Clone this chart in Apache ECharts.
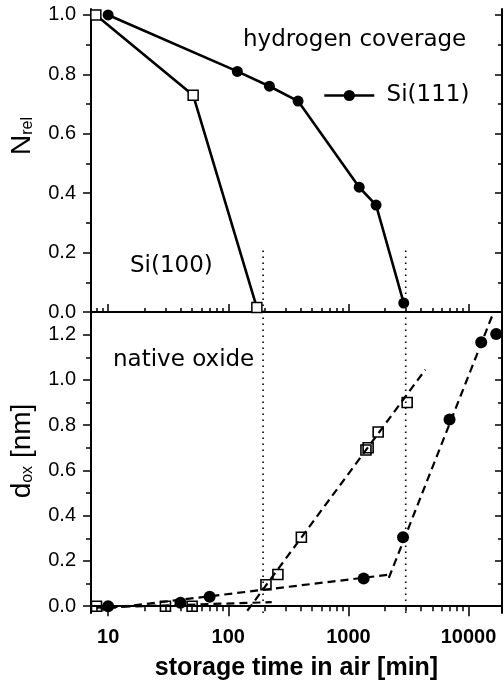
<!DOCTYPE html>
<html>
<head>
<meta charset="utf-8">
<script src="https://cdn.jsdelivr.net/npm/echarts@6/dist/echarts.min.js"></script>
<style>
html, body { margin: 0; padding: 0; background: #fff; }
#chart { width: 504px; height: 684px; }
</style>
</head>
<body>
<div id="chart"></div>
<script>
// tick values
const xMajor = [10, 100, 1000, 10000];
const xMinor = [8, 9, 20, 30, 40, 50, 60, 70, 80, 90, 200, 300, 400, 500, 600, 700, 800, 900,
    2000, 3000, 4000, 5000, 6000, 7000, 8000, 9000];
const coverageTicks = [0, 0.2, 0.4, 0.6, 0.8, 1.0];
const coverageMinor = [0.1, 0.3, 0.5, 0.7, 0.9];
const oxideTicks = [0, 0.2, 0.4, 0.6, 0.8, 1.0, 1.2];
const oxideMinor = [0.1, 0.3, 0.5, 0.7, 0.9, 1.1];

// hydrogen coverage (top panel)
const si111Coverage = [[10, 1.0], [119, 0.81], [220, 0.76], [381, 0.71], [1230, 0.42], [1700, 0.36], [2890, 0.03]];
const si100Coverage = [[7.9, 1.0], [51, 0.73], [173, 0.015]];

// native oxide thickness (bottom panel)
const si100Oxide = [[8, 0], [30, 0], [50, 0], [206, 0.095], [259, 0.14], [406, 0.305],
    [1400, 0.69], [1460, 0.70], [1770, 0.77], [3085, 0.90]];
const si111Oxide = [[10, 0], [40, 0.015], [70, 0.042], [1340, 0.122], [2850, 0.305],
    [6950, 0.825], [12760, 1.166], [17000, 1.203]];

// dashed guide lines
const si100FitLow = [[8, -0.006], [230, 0.018]];
const si100FitHigh = [[144, -0.02], [4370, 1.045]];
const si111FitLow = [[10, -0.01], [2240, 0.14]];
const si111FitHigh = [[2170, 0.125], [16200, 1.30]];

// dotted markers
const markTimes = [195, 3000];
const markTopCoverage = 0.21;

const X_MIN = 7.2, X_MAX = 19000;
const black = '#000';
const annFont = {fontFamily: 'DejaVu Sans', fontSize: 23, fill: black};

function xAx(gridIndex, position, values, length, inside, showLine, extra) {
    return Object.assign({
        type: 'log', logBase: 10, gridIndex: gridIndex, position: position,
        min: X_MIN, max: X_MAX,
        axisLine: {show: showLine, lineStyle: {color: black, width: 2}},
        axisTick: {show: !!values, customValues: values || [], inside: inside, length: length,
            lineStyle: {color: black, width: 1.5}},
        axisLabel: {show: false},
        splitLine: {show: false}
    }, extra || {});
}

function yAx(gridIndex, position, min, max, values, length, inside, showLine, extra) {
    return Object.assign({
        type: 'value', gridIndex: gridIndex, position: position, min: min, max: max,
        axisLine: {show: showLine, lineStyle: {color: black, width: 2}},
        axisTick: {show: true, customValues: values, inside: inside, length: length,
            lineStyle: {color: black, width: 1.5}},
        axisLabel: {show: false},
        splitLine: {show: false}
    }, extra || {});
}

const yLabel = (vals) => ({
    show: true, customValues: vals, margin: 15,
    fontFamily: 'Liberation Sans', fontSize: 20, color: black,
    formatter: v => v.toFixed(1)
});

const lineStyle = {color: black, width: 2.6};
const dash = {color: black, width: 2.2, type: [8, 5]};
const dot = {color: black, width: 1.6, type: [1.6, 4.4]};

const series = [
    {name: 'Si(111)', type: 'line', xAxisIndex: 0, yAxisIndex: 0, data: si111Coverage,
        symbol: 'circle', symbolSize: 11, color: black, lineStyle: lineStyle,
        itemStyle: {color: black, opacity: 1}, z: 5},
    {name: 'Si(100)', type: 'line', xAxisIndex: 0, yAxisIndex: 0, data: si100Coverage,
        symbol: 'rect', symbolSize: 10, lineStyle: lineStyle,
        itemStyle: {color: '#fff', borderColor: black, borderWidth: 1.5, opacity: 1}, z: 5},
    {name: 'fit100a', type: 'line', xAxisIndex: 5, yAxisIndex: 4, data: si100FitLow, showSymbol: false, lineStyle: dash},
    {name: 'fit100b', type: 'line', xAxisIndex: 5, yAxisIndex: 4, data: si100FitHigh, showSymbol: false, lineStyle: dash},
    {name: 'fit111a', type: 'line', xAxisIndex: 5, yAxisIndex: 4, data: si111FitLow, showSymbol: false, lineStyle: dash},
    {name: 'fit111b', type: 'line', xAxisIndex: 5, yAxisIndex: 4, data: si111FitHigh, showSymbol: false, lineStyle: dash},
    {name: 'ox100', type: 'scatter', xAxisIndex: 5, yAxisIndex: 4, data: si100Oxide, symbol: 'rect', symbolSize: 10,
        itemStyle: {color: 'rgba(0,0,0,0)', borderColor: black, borderWidth: 1.6, opacity: 1}, z: 6},
    {name: 'ox111', type: 'scatter', xAxisIndex: 5, yAxisIndex: 4, data: si111Oxide, symbol: 'circle', symbolSize: 12,
        itemStyle: {color: black, opacity: 1}, z: 6}
];

markTimes.forEach((t, i) => {
    series.push({name: 'markTop' + i, type: 'line', xAxisIndex: 0, yAxisIndex: 0, showSymbol: false,
        data: [[t, 0], [t, markTopCoverage]], lineStyle: dot, silent: true});
    series.push({name: 'markBot' + i, type: 'line', xAxisIndex: 5, yAxisIndex: 4, showSymbol: false,
        data: [[t, -0.03], [t, 1.3]], lineStyle: dot, silent: true});
});

const chart = echarts.init(document.getElementById('chart'));
chart.setOption({
    animation: false,
    backgroundColor: '#fff',
    grid: [
        {left: 91, top: 9, right: 2, height: 303, outerBoundsMode: 'none'},
        {left: 91, top: 312, right: 2, height: 301, outerBoundsMode: 'none'}
    ],
    xAxis: [
        xAx(0, 'bottom', xMajor, 8, true, true),
        xAx(0, 'bottom', xMinor, 4, true, false),
        xAx(0, 'top', null, 0, true, true),
        xAx(1, 'top', xMajor, 8, true, true),
        xAx(1, 'top', xMinor, 4, true, false),
        xAx(1, 'bottom', xMajor, 10, false, true, {
            axisLabel: {show: true, customValues: xMajor, margin: 14,
                fontFamily: 'Liberation Sans', fontWeight: 'bold', fontSize: 20, color: black,
                formatter: v => String(Math.round(v))},
            name: 'storage time in air [min]', nameLocation: 'middle', nameGap: 43,
            nameTextStyle: {fontFamily: 'Liberation Sans', fontWeight: 'bold', fontSize: 25, color: black}
        }),
        xAx(1, 'bottom', xMinor, 5, false, false)
    ],
    yAxis: [
        yAx(0, 'left', 0, 1.02, coverageTicks, 8, false, true, {axisLabel: yLabel(coverageTicks)}),
        yAx(0, 'left', 0, 1.02, coverageMinor, 5, false, false),
        yAx(0, 'right', 0, 1.02, coverageTicks, 7, true, true),
        yAx(0, 'right', 0, 1.02, coverageMinor, 4, true, false),
        yAx(1, 'left', -0.03, 1.3, oxideTicks, 8, false, true, {axisLabel: yLabel(oxideTicks)}),
        yAx(1, 'left', -0.03, 1.3, oxideMinor, 5, false, false),
        yAx(1, 'right', -0.03, 1.3, oxideTicks, 7, true, true),
        yAx(1, 'right', -0.03, 1.3, oxideMinor, 4, true, false)
    ],
    legend: {
        data: ['Si(111)'], left: 323, top: 84, padding: 0,
        itemWidth: 50, itemHeight: 14, formatter: ' {name}',
        lineStyle: {width: 2.6},
        textStyle: {fontFamily: 'DejaVu Sans', fontSize: 23, color: black}
    },
    graphic: [
        {type: 'text', x: 243, y: 40, style: Object.assign({text: 'hydrogen coverage', verticalAlign: 'middle'}, annFont)},
        {type: 'text', x: 130, y: 266, style: Object.assign({text: 'Si(100)', verticalAlign: 'middle'}, annFont)},
        {type: 'text', x: 113, y: 360, style: Object.assign({text: 'native oxide', verticalAlign: 'middle'}, annFont)},
        {type: 'text', x: 22, y: 136, rotation: Math.PI / 2, style: {
            text: '{a|N}{b|rel}', align: 'center', verticalAlign: 'middle',
            rich: {
                a: {fontFamily: 'Liberation Sans', fontSize: 28, fill: black},
                b: {fontFamily: 'Liberation Sans', fontSize: 16, fill: black, verticalAlign: 'bottom'}
            }}},
        {type: 'text', x: 22, y: 451, rotation: Math.PI / 2, style: {
            text: '{a|d}{b|ox}{a| [nm]}', align: 'center', verticalAlign: 'middle',
            rich: {
                a: {fontFamily: 'Liberation Sans', fontSize: 28, fill: black},
                b: {fontFamily: 'Liberation Sans', fontSize: 16, fill: black, verticalAlign: 'bottom'}
            }}}
    ],
    series: series
});
</script>
</body>
</html>
